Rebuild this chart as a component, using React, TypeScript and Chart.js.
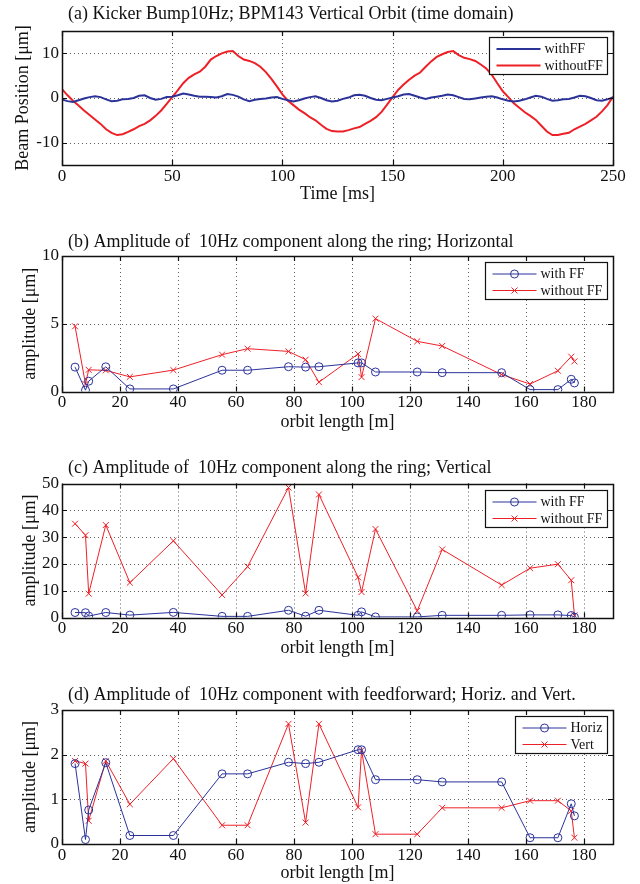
import React, { useEffect, useRef } from "react";
import { Chart, registerables } from "chart.js";

Chart.register(...registerables);

// ---------- DATA ----------
const timeMs = [
  0, 2.5, 5, 7.5, 10, 12.5, 15, 17.5, 20, 22.5, 25, 27.5, 30, 32.5, 35, 37.5, 40, 42.5, 45, 47.5,
  50, 52.5, 55, 57.5, 60, 62.5, 65, 67.5, 70, 72.5, 75, 77.5, 80, 82.5, 85, 87.5, 90, 92.5, 95, 97.5,
  100, 102.5, 105, 107.5, 110, 112.5, 115, 117.5, 120, 122.5, 125, 127.5, 130, 132.5, 135, 137.5, 140, 142.5, 145, 147.5,
  150, 152.5, 155, 157.5, 160, 162.5, 165, 167.5, 170, 172.5, 175, 177.5, 180, 182.5, 185, 187.5, 190, 192.5, 195, 197.5,
  200, 202.5, 205, 207.5, 210, 212.5, 215, 217.5, 220, 222.5, 225, 227.5, 230, 232.5, 235, 237.5, 240, 242.5, 245, 247.5,
  250,
];
const orbitWithFF = [
  -0.3, -0.7, -0.9, -0.5, -0.1, 0.2, 0.4, 0.2, -0.3, -0.7, -0.6, -0.3, -0.2, 0.0, 0.5, 0.6, 0.0, -0.4, -0.2, 0.2,
  0.3, 0.6, 1.0, 0.8, 0.5, 0.3, 0.3, 0.2, 0.1, 0.4, 0.9, 0.7, 0.3, -0.3, -0.7, -0.4, -0.2, -0.1, 0.1, 0.2,
  -0.2, -0.5, -0.8, -0.5, -0.1, 0.2, 0.4, 0.0, -0.5, -0.8, -0.6, -0.2, 0.1, 0.6, 0.7, 0.5, 0.0, -0.4, -0.5, -0.2,
  0.1, 0.4, 0.8, 0.9, 0.5, 0.1, -0.2, 0.1, 0.3, 0.5, 0.8, 0.6, 0.2, -0.2, -0.3, -0.1, 0.1, 0.3, 0.4, 0.1,
  -0.3, -0.6, -0.8, -0.6, -0.3, 0.1, 0.5, 0.3, -0.2, -0.6, -0.5, -0.3, -0.2, 0.1, 0.5, 0.4, 0.0, -0.5, -0.6, -0.3,
  0.1,
];
const orbitWithoutFF = [
  2.0, 0.6, -0.6, -1.7, -2.8, -3.8, -4.8, -5.8, -7.0, -7.8, -8.3, -8.1, -7.6, -7.0, -6.3, -5.8, -5.0, -4.0, -2.8, -1.3,
  0.2, 1.7, 3.3, 4.5, 5.3, 5.9, 7.0, 8.6, 9.4, 10.0, 10.4, 10.5, 9.4, 8.6, 8.3, 7.8, 7.0, 5.8, 4.3, 2.6,
  0.8, -0.6, -1.6, -2.6, -3.4, -4.3, -5.0, -6.0, -6.9, -7.4, -7.5, -7.5, -7.2, -6.8, -6.5, -5.8, -5.1, -4.3, -3.1, -1.5,
  0.2, 1.8, 3.0, 4.1, 5.0, 5.7, 7.0, 8.2, 9.2, 9.8, 10.3, 10.5, 9.6, 9.0, 8.7, 8.3, 7.5, 6.6, 5.2, 3.3,
  1.5, 0.2, -1.2, -2.2, -3.2, -4.0, -4.9, -6.2, -7.5, -8.3, -8.3, -8.0, -7.8, -7.0, -6.4, -5.8, -5.0, -4.2, -3.0, -1.6,
  0.3,
];

const orbitLength = [4.5, 8.1, 9.2, 15.1, 23.4, 38.4, 55.2, 64.0, 78.1, 84.0, 88.6, 102.1, 103.3, 108.1, 122.5, 131.1, 151.6, 161.4, 171.0, 175.6, 176.7];
const horizWithFF = [1.8, 0.1, 0.76, 1.82, 0.19, 0.19, 1.57, 1.57, 1.83, 1.8, 1.83, 2.11, 2.11, 1.44, 1.44, 1.39, 1.39, 0.14, 0.14, 0.9, 0.63];
const horizWithoutFF = [4.81, 0.55, 1.6, 1.56, 1.08, 1.58, 2.72, 3.16, 2.96, 2.35, 0.69, 2.77, 1.06, 5.38, 3.7, 3.36, 1.25, 0.55, 1.53, 2.57, 2.22];
const vertWithFF = [1.86, 1.8, 0.52, 1.86, 0.89, 1.91, 0.42, 0.42, 2.69, 0.48, 2.69, 0.82, 2.1, 0.22, 0.22, 0.81, 0.81, 0.97, 0.97, 0.74, 0.14];
const vertWithoutFF = [35, 30.7, 8.9, 34.5, 13, 28.6, 8.4, 19, 48.5, 9, 45.9, 15, 9.5, 33, 2.5, 25.4, 12.1, 18.4, 19.9, 13.9, 0.8];

const timeTicks = [0, 50, 100, 150, 200, 250];
const positionTicks = [-10, 0, 10];
const orbitTicks = [0, 20, 40, 60, 80, 100, 120, 140, 160, 180];
const horizTicks = [0, 5, 10];
const vertTicks = [0, 10, 20, 30, 40, 50];
const ffTicks = [0, 1, 2, 3];

// ---------- STYLE ----------
const FONT = '"Liberation Serif", "Times New Roman", serif';
const BLUE = "#2b3399";
const RED = "#ee2027";
const TICK_PX = 17;
const LABEL_PX = 18;
const TITLE_PX = 18;
const LEGEND_PX = 14;

type Marker = "none" | "circle" | "crossRot";
type Series = { label: string; x: number[]; y: number[]; color: string; marker: Marker; width: number };
type Panel = {
  top: number; height: number; areaTop: number; areaBottom: number;
  title: string; titleY: number;
  xTitle: string; xTitleY: number; yTitle: string; yTitleX: number;
  xMin: number; xMax: number; xTicks: number[];
  yMin: number; yMax: number; yTicks: number[];
  series: Series[];
};

const panels: Panel[] = [
  {
    top: 0, height: 215, areaTop: 31, areaBottom: 165,
    title: "(a) Kicker Bump10Hz; BPM143 Vertical Orbit (time domain)", titleY: 14,
    xTitle: "Time [ms]", xTitleY: 194, yTitle: "Beam Position [μm]", yTitleX: 23,
    xMin: 0, xMax: 250, xTicks: timeTicks, yMin: -15, yMax: 15, yTicks: positionTicks,
    series: [
      { label: "withFF", x: timeMs, y: orbitWithFF, color: BLUE, marker: "none", width: 2 },
      { label: "withoutFF", x: timeMs, y: orbitWithoutFF, color: RED, marker: "none", width: 2 },
    ],
  },
  {
    top: 222, height: 215, areaTop: 34, areaBottom: 169.5,
    title: "(b) Amplitude of  10Hz component along the ring; Horizontal", titleY: 20.5,
    xTitle: "orbit length [m]", xTitleY: 200, yTitle: "amplitude [μm]", yTitleX: 30,
    xMin: 0, xMax: 190, xTicks: orbitTicks, yMin: 0, yMax: 10, yTicks: horizTicks,
    series: [
      { label: "with FF", x: orbitLength, y: horizWithFF, color: BLUE, marker: "circle", width: 1 },
      { label: "without FF", x: orbitLength, y: horizWithoutFF, color: RED, marker: "crossRot", width: 1 },
    ],
  },
  {
    top: 449, height: 215, areaTop: 34.5, areaBottom: 168.5,
    title: "(c) Amplitude of  10Hz component along the ring; Vertical", titleY: 19,
    xTitle: "orbit length [m]", xTitleY: 199, yTitle: "amplitude [μm]", yTitleX: 30,
    xMin: 0, xMax: 190, xTicks: orbitTicks, yMin: 0, yMax: 50, yTicks: vertTicks,
    series: [
      { label: "with FF", x: orbitLength, y: vertWithFF, color: BLUE, marker: "circle", width: 1 },
      { label: "without FF", x: orbitLength, y: vertWithoutFF, color: RED, marker: "crossRot", width: 1 },
    ],
  },
  {
    top: 674, height: 210, areaTop: 36, areaBottom: 170,
    title: "(d) Amplitude of  10Hz component with feedforward; Horiz. and Vert.", titleY: 21,
    xTitle: "orbit length [m]", xTitleY: 199, yTitle: "amplitude [μm]", yTitleX: 30,
    xMin: 0, xMax: 190, xTicks: orbitTicks, yMin: 0, yMax: 3, yTicks: ffTicks,
    series: [
      { label: "Horiz", x: orbitLength, y: horizWithFF, color: BLUE, marker: "circle", width: 1 },
      { label: "Vert", x: orbitLength, y: vertWithFF, color: RED, marker: "crossRot", width: 1 },
    ],
  },
];

function drawMarker(ctx: CanvasRenderingContext2D, style: string, x: number, y: number, color: string) {
  ctx.save();
  ctx.strokeStyle = color;
  ctx.lineWidth = 1;
  ctx.setLineDash([]);
  if (style === "circle") {
    ctx.beginPath();
    ctx.arc(x, y, 4, 0, Math.PI * 2);
    ctx.stroke();
  } else if (style === "crossRot") {
    const r = 3;
    ctx.beginPath();
    ctx.moveTo(x - r, y - r); ctx.lineTo(x + r, y + r);
    ctx.moveTo(x + r, y - r); ctx.lineTo(x - r, y + r);
    ctx.stroke();
  }
  ctx.restore();
}

const matlabFrame = {
  id: "matlabFrame",
  beforeDatasetsDraw(chart: any) {
    const { ctx, chartArea: a } = chart;
    const xs = chart.scales.x, ys = chart.scales.y;
    ctx.save();
    ctx.strokeStyle = "rgba(60,60,60,0.8)";
    ctx.lineWidth = 1;
    ctx.setLineDash([1, 3]);
    xs.ticks.forEach((t: any) => {
      const px = Math.round(xs.getPixelForValue(t.value)) + 0.5;
      if (px > a.left + 2 && px < a.right - 2) {
        ctx.beginPath(); ctx.moveTo(px, a.top); ctx.lineTo(px, a.bottom); ctx.stroke();
      }
    });
    ys.ticks.forEach((t: any) => {
      const py = Math.round(ys.getPixelForValue(t.value)) + 0.5;
      if (py > a.top + 2 && py < a.bottom - 2) {
        ctx.beginPath(); ctx.moveTo(a.left, py); ctx.lineTo(a.right, py); ctx.stroke();
      }
    });
    ctx.restore();
  },
  afterDatasetsDraw(chart: any, _args: any, opts: any) {
    const { ctx, chartArea: a } = chart;
    const xs = chart.scales.x, ys = chart.scales.y;
    ctx.save();
    ctx.setLineDash([]);
    ctx.strokeStyle = "#111";
    ctx.lineWidth = 1.2;
    // inward ticks
    const tl = 5;
    ctx.beginPath();
    xs.ticks.forEach((t: any) => {
      const px = Math.round(xs.getPixelForValue(t.value)) + 0.5;
      ctx.moveTo(px, a.bottom); ctx.lineTo(px, a.bottom - tl);
      ctx.moveTo(px, a.top); ctx.lineTo(px, a.top + tl);
    });
    ys.ticks.forEach((t: any) => {
      const py = Math.round(ys.getPixelForValue(t.value)) + 0.5;
      ctx.moveTo(a.left, py); ctx.lineTo(a.left + tl, py);
      ctx.moveTo(a.right, py); ctx.lineTo(a.right - tl, py);
    });
    ctx.stroke();
    // box
    ctx.lineWidth = 1.5;
    ctx.strokeRect(Math.round(a.left) + 0.5, Math.round(a.top) + 0.5, Math.round(a.right - a.left), Math.round(a.bottom - a.top));

    // legend
    ctx.font = `${LEGEND_PX}px ${FONT}`;
    const ds = chart.data.datasets;
    let maxW = 0;
    ds.forEach((d: any) => { maxW = Math.max(maxW, ctx.measureText(d.label).width); });
    const boxW = Math.round(56 + maxW + 4);
    const boxH = 37;
    const bx = Math.round(a.right - 6 - boxW) + 0.5;
    const by = Math.round(a.top + 6) + 0.5;
    ctx.fillStyle = "#fff";
    ctx.fillRect(bx, by, boxW, boxH);
    ctx.strokeStyle = "#111";
    ctx.lineWidth = 1.2;
    ctx.strokeRect(bx, by, boxW, boxH);
    ds.forEach((d: any, i: number) => {
      const ry = by + 11.5 + i * 16.5;
      ctx.strokeStyle = d.borderColor;
      ctx.lineWidth = d.borderWidth;
      ctx.beginPath(); ctx.moveTo(bx + 7, ry); ctx.lineTo(bx + 51, ry); ctx.stroke();
      if (d.pointStyle) drawMarker(ctx, d.pointStyle, bx + 29, ry, d.borderColor);
      ctx.fillStyle = "#111";
      ctx.textBaseline = "middle";
      ctx.textAlign = "left";
      ctx.fillText(d.label, bx + 55, ry + 0.5);
    });

    // title
    ctx.font = `${TITLE_PX}px ${FONT}`;
    ctx.fillStyle = "#111";
    ctx.textAlign = "left";
    ctx.textBaseline = "middle";
    ctx.fillText(opts.text, 68, opts.y);
    ctx.restore();
  },
};

function PanelChart({ p }: { p: Panel }) {
  const ref = useRef<HTMLCanvasElement | null>(null);
  useEffect(() => {
    if (!ref.current) return;
    const lh = 1.2;
    const tickFont = { family: FONT, size: TICK_PX, lineHeight: lh };
    const labelFont = { family: FONT, size: LABEL_PX, lineHeight: lh };
    const chart = new Chart(ref.current, {
      type: "line",
      data: {
        datasets: p.series.map((s) => ({
          label: s.label,
          data: s.x.map((xv, i) => ({ x: xv, y: s.y[i] })),
          borderColor: s.color,
          backgroundColor: "transparent",
          borderWidth: s.width,
          pointStyle: s.marker === "none" ? false : s.marker,
          pointRadius: s.marker === "none" ? 0 : s.marker === "circle" ? 4 : 4.2,
          pointBorderColor: s.color,
          pointBackgroundColor: "transparent",
          pointBorderWidth: 1,
          tension: 0,
          fill: false,
        })) as any,
      },
      options: {
        responsive: false,
        animation: false,
        events: [],
        layout: { padding: { top: p.areaTop, left: 0, right: 27, bottom: 0 } },
        plugins: {
          legend: { display: false },
          title: { display: false },
          tooltip: { enabled: false },
          matlabFrame: { text: p.title, y: p.titleY },
        } as any,
        scales: {
          x: {
            type: "linear",
            min: p.xMin,
            max: p.xMax,
            afterBuildTicks: (s: any) => { s.ticks = p.xTicks.map((v) => ({ value: v })); },
            afterFit: (s: any) => { s.height = p.height - p.areaBottom; },
            grid: { display: false, drawTicks: false, tickLength: 0 },
            border: { display: false },
            ticks: { font: tickFont, color: "#111", padding: 1, maxRotation: 0, autoSkip: false, callback: (v: any) => String(v) },
            title: {
              display: true, text: p.xTitle, color: "#111", font: labelFont,
              padding: { top: 0, bottom: p.height - p.xTitleY - (LABEL_PX * lh) / 2 },
            },
          },
          y: {
            type: "linear",
            min: p.yMin,
            max: p.yMax,
            afterBuildTicks: (s: any) => { s.ticks = p.yTicks.map((v) => ({ value: v })); },
            afterFit: (s: any) => { s.width = 62; },
            grid: { display: false, drawTicks: false, tickLength: 0 },
            border: { display: false },
            ticks: { font: tickFont, color: "#111", padding: 3, autoSkip: false, callback: (v: any) => String(v) },
            title: {
              display: true, text: p.yTitle, color: "#111", font: labelFont,
              padding: { top: p.yTitleX - (LABEL_PX * lh) / 2, bottom: 0 },
            },
          },
        },
      },
      plugins: [matlabFrame as any],
    });
    return () => chart.destroy();
  }, [p]);
  return (
    <canvas
      ref={ref}
      width={640}
      height={p.height}
      style={{ position: "absolute", left: 0, top: p.top, width: 640, height: p.height, display: "block" }}
    />
  );
}

export default function App() {
  return (
    <div style={{ position: "absolute", left: 0, top: 0, width: 640, height: 884, background: "#fff", overflow: "hidden" }}>
      {panels.map((p, i) => (
        <PanelChart key={i} p={p} />
      ))}
    </div>
  );
}
